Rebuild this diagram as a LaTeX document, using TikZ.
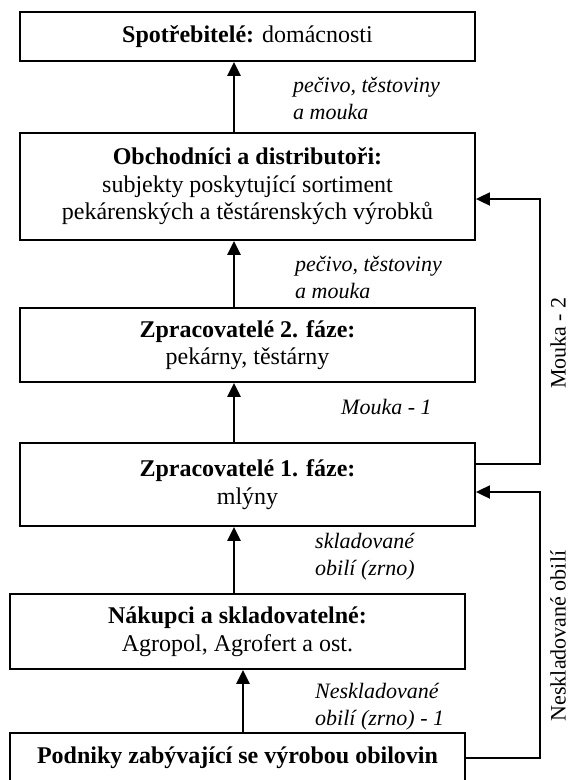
\documentclass[tikz,border=0pt]{standalone}
\usepackage{fontspec}
\setmainfont{Liberation Serif}
\usetikzlibrary{arrows.meta,calc}
\begin{document}
\begin{tikzpicture}[x=1pt,y=-1pt,
  box/.style={draw,line width=1.8pt,align=center,inner sep=0pt,minimum width=455pt,
    font=\fontsize{24}{27.5}\selectfont},
  arr/.style={line width=2.6pt,-{Triangle[width=13pt,length=14pt]}},
  conn/.style={line width=1.8pt},
  connarr/.style={line width=1.8pt,-{Triangle[width=13pt,length=14pt]}},
  lab/.style={anchor=west,align=left,inner sep=0pt,font=\fontsize{22}{27}\selectfont\itshape},
  rlab/.style={rotate=90,inner sep=0pt,font=\fontsize{22}{27}\selectfont}]
\useasboundingbox (0,0) rectangle (570,780);
\fill[white] (0,0) rectangle (570,780);
\node[box,minimum height=49pt] (b1) at (247.5,36.5) {\textbf{Spotřebitelé:} domácnosti};
\node[box,minimum height=107pt] (b2) at (247.5,186.5) {\textbf{Obchodníci a distributoři:}\\subjekty poskytující sortiment\\pekárenských a těstárenských výrobků};
\node[box,minimum height=74pt] (b3) at (247.5,345) {\textbf{Zpracovatelé 2. fáze:}\\pekárny, těstárny};
\node[box,minimum height=83pt] (b4) at (247.5,484.5) {\textbf{Zpracovatelé 1. fáze:}\\mlýny};
\node[box,minimum height=75pt] (b5) at (237.5,631.5) {\textbf{Nákupci a skladovatelné:}\\Agropol, Agrofert a ost.};
\node[box,minimum height=50pt] (b6) at (237.5,758) {\textbf{Podniky zabývající se výrobou obilovin}};
\coordinate (ax) at (234,0);
\coordinate (bx) at (243,0);
\draw[arr] (b2.north -| ax) -- (b1.south -| ax);
\draw[arr] (b3.north -| ax) -- (b2.south -| ax);
\draw[arr] (b4.north -| ax) -- (b3.south -| ax);
\draw[arr] (b5.north -| ax) -- (b4.south -| ax);
\draw[arr] (b6.north -| bx) -- (b5.south -| bx);
\coordinate (rail1) at (540,300);
\coordinate (rail2) at (540,600);
\draw[connarr] ([yshift=20.5pt]b4.east) -| (rail1) |- ([yshift=-12.5pt]b2.east);
\draw[connarr] (b6.east) -| (rail2) |- ([yshift=-7.5pt]b4.east);
\node[lab] (l1) at (293,98.5) {pečivo, těstoviny\\a mouka};
\node[lab] (l2) at (295,277.5) {pečivo, těstoviny\\a mouka};
\node[lab] (l3) at (341,407) {Mouka - 1};
\node[lab] (l4) at (315,556.5) {skladované\\obilí (zrno)};
\node[lab] (l5) at (315,707) {Neskladované\\obilí (zrno) - 1};
\node[rlab] (r1) at (558,343) {Mouka - 2};
\node[rlab] (r2) at (558,636) {Neskladované obilí};
\end{tikzpicture}
\end{document}
